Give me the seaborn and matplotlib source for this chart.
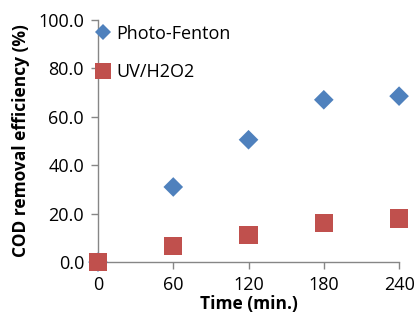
import matplotlib
matplotlib.use("Agg")
import matplotlib.pyplot as plt
import seaborn as sns
import pandas as pd

time_min = [0, 60, 120, 180, 240]
photo_fenton = [0.0, 31.0, 50.5, 67.0, 68.5]
uv_h2o2 = [0.0, 6.5, 11.0, 16.3, 18.0]
x_ticks = [0, 60, 120, 180, 240]
y_ticks = [0, 20, 40, 60, 80, 100]

sns.set_theme(style="white")
plt.rcParams['font.family'] = ['Open Sans', 'DejaVu Sans']
plt.rcParams['text.color'] = 'black'
plt.rcParams['axes.labelcolor'] = 'black'
plt.rcParams['xtick.labelcolor'] = 'black'
plt.rcParams['ytick.labelcolor'] = 'black'

df = pd.DataFrame({
    "Time": time_min * 2,
    "COD": photo_fenton + uv_h2o2,
    "Series": ["Photo-Fenton"] * 5 + ["UV/H2O2"] * 5,
})

fig = plt.figure(figsize=(4.17, 3.2), dpi=100)
ax = fig.add_axes([0.235, 0.181, 0.722, 0.757])

sns.scatterplot(data=df, x="Time", y="COD", hue="Series", style="Series",
                markers={"Photo-Fenton": "D", "UV/H2O2": "s"},
                palette={"Photo-Fenton": "#4F81BD", "UV/H2O2": "#C0504D"},
                s=110, linewidth=0, ax=ax, legend=False, zorder=3)
ax.collections[0].set_sizes([100 if m else 170 for m in (df["Series"] == "Photo-Fenton")])

ax.set_xlim(0, 240)
ax.set_ylim(0, 100)
ax.set_xticks(x_ticks)
ax.set_yticks(y_ticks)
ax.set_yticklabels([f"{v:.1f}" for v in y_ticks])
ax.tick_params(axis="both", direction="out", length=5, width=1, color="#868686",
               labelsize=13, pad=5, left=True, bottom=True, labelcolor="black")
for side in ["top", "right"]:
    ax.spines[side].set_visible(False)
for side in ["left", "bottom"]:
    ax.spines[side].set_color("#868686")
    ax.spines[side].set_linewidth(1)
for sp in ax.spines.values():
    sp.set_clip_on(False)
for c in ax.collections:
    c.set_clip_on(False)

ax.set_xlabel("Time (min.)", fontsize=12.5, fontweight="bold", labelpad=1, color="black")
ax.set_ylabel("COD removal efficiency (%)", fontsize=12.5, fontweight="bold", labelpad=6, color="black")

from matplotlib.lines import Line2D
handles = [
    Line2D([], [], marker="D", linestyle="none", color="#4F81BD", markersize=8, markeredgewidth=0),
    Line2D([], [], marker="s", linestyle="none", color="#C0504D", markersize=11, markeredgewidth=0),
]
ax.legend(handles, ["Photo-Fenton", "UV/H2O2"], loc="upper left",
          bbox_to_anchor=(-0.03, 1.01), frameon=False, fontsize=13,
          handlelength=0.8, handletextpad=0.3, labelspacing=1.15, borderaxespad=0)

fig.savefig("out.png", dpi=100)
